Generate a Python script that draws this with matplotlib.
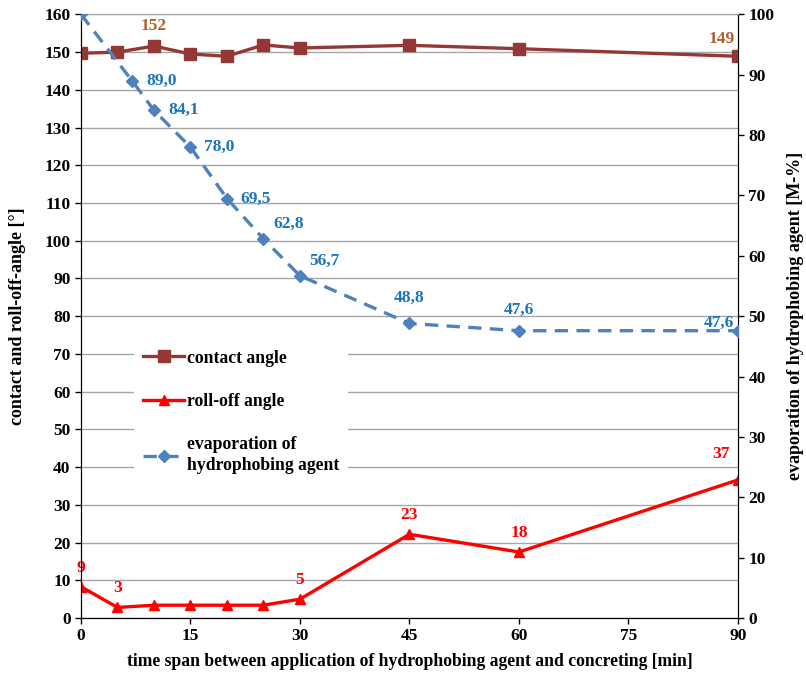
import matplotlib.pyplot as plt
from matplotlib.lines import Line2D

plt.rcParams['font.family'] = ['Liberation Serif', 'DejaVu Serif']
plt.rcParams['font.weight'] = 'bold'

# data
t_angle = [0, 5, 10, 15, 20, 25, 30, 45, 60, 90]
contact = [149.7, 150.0, 151.6, 149.5, 148.9, 151.9, 151.1, 151.8, 150.9, 148.9]
rolloff = [8.3, 2.8, 3.4, 3.4, 3.4, 3.4, 5.0, 22.2, 17.5, 36.6]

t_evap = [0, 7, 10, 15, 20, 25, 30, 45, 60, 90]
evap = [100.0, 89.0, 84.1, 78.0, 69.5, 62.8, 56.7, 48.8, 47.6, 47.6]

contact_labels = {2: "152", 9: "149"}
rolloff_labels = {0: "9", 1: "3", 6: "5", 7: "23", 8: "18", 9: "37"}
evap_labels = {i: f"{v:.1f}".replace(".", ",") for i, v in enumerate(evap) if i > 0}

c_contact = '#953735'
c_roll = '#FF0000'
c_evap = '#4F81BD'
c_contact_txt = '#B0602A'
c_evap_txt = '#1C75BC'

fig = plt.figure(figsize=(8.06, 6.79), dpi=100)
ax = fig.add_axes([0.1005, 0.0898, 0.815, 0.889])
ax2 = ax.twinx()

ax.plot(t_angle, contact, color=c_contact, lw=2.4, marker='s', ms=8, zorder=3)
ax.plot(t_angle, rolloff, color=c_roll, lw=2.4, marker='^', ms=7, zorder=3)
ax2.plot(t_evap, evap, color=c_evap, lw=2.4, ls=(0, (4, 2.5)), marker='D', ms=6, zorder=3)

ax.set_xlim(0, 90)
ax.set_ylim(0, 160)
ax2.set_ylim(0, 100)
ax.set_xticks(range(0, 91, 15))
ax.set_yticks(range(0, 161, 10))
ax2.set_yticks(range(0, 101, 10))
ax.yaxis.grid(True, color='#A6A6A6', lw=1)
ax.set_axisbelow(True)

for a in (ax, ax2):
    a.tick_params(labelsize=12.5, length=4, width=1, direction='out')
    a.spines['top'].set_color('#A6A6A6')
    for s in ('left', 'right', 'bottom'):
        a.spines[s].set_color('black')

ax.set_xlabel("time span between application of hydrophobing agent and concreting [min]",
              fontsize=12.7, fontweight='bold', labelpad=6)
ax.set_ylabel("contact and roll-off-angle [°]", fontsize=13, fontweight='bold')
ax2.set_ylabel("evaporation of hydrophobing agent [M-%]", fontsize=13, fontweight='bold')
ax.yaxis.set_label_coords(-0.083, 0.5)
ax2.yaxis.set_label_coords(1.074, 0.5)

fs = 12.5
for i, s in contact_labels.items():
    dx, dy = (0, 9) if i < 9 else (-12, 7)
    ax.annotate(s, (t_angle[i], contact[i]), xytext=(dx, dy), textcoords='offset points',
                ha='center', va='bottom', color=c_contact_txt, fontsize=fs, fontweight='bold')
for i, s in rolloff_labels.items():
    dx, dy = (0, 8) if i < 9 else (-12, 13)
    ax.annotate(s, (t_angle[i], rolloff[i]), xytext=(dx, dy), textcoords='offset points',
                ha='center', va='bottom', color=c_roll, fontsize=fs, fontweight='bold')
for i, s in evap_labels.items():
    if i <= 4:
        xy, ha, va = (10, 0), 'left', 'center'
    elif i <= 6:
        xy, ha, va = (7, 5), 'left', 'bottom'
    elif i == 7:
        xy, ha, va = (0, 13), 'center', 'bottom'
    elif i == 8:
        xy, ha, va = (0, 9), 'center', 'bottom'
    else:
        xy, ha, va = (-14, 0), 'center', 'bottom'
    ax2.annotate(s, (t_evap[i], evap[i]), xytext=xy, textcoords='offset points',
                 ha=ha, va=va, color=c_evap_txt, fontsize=fs, fontweight='bold')

handles = [
    Line2D([], [], color=c_contact, lw=2.4, marker='s', ms=8),
    Line2D([], [], color=c_roll, lw=2.4, marker='^', ms=7),
    Line2D([], [], color=c_evap, lw=2.4, ls=(0, (4, 2.5)), marker='D', ms=6),
]
names = ["contact angle", "roll-off angle", "evaporation of\nhydrophobing agent"]
leg = ax2.legend(handles, names, loc='upper left', bbox_to_anchor=(0.068, 0.474),
                 frameon=True, facecolor='white', edgecolor='none', framealpha=1,
                 labelspacing=1.5, handlelength=2.3, handletextpad=0.2,
                 borderpad=0.5, prop={'weight': 'bold', 'size': 12.7})
leg.get_texts()[2].set_linespacing(1.3)
leg.set_zorder(10)

fig.savefig('out.png', dpi=100)
